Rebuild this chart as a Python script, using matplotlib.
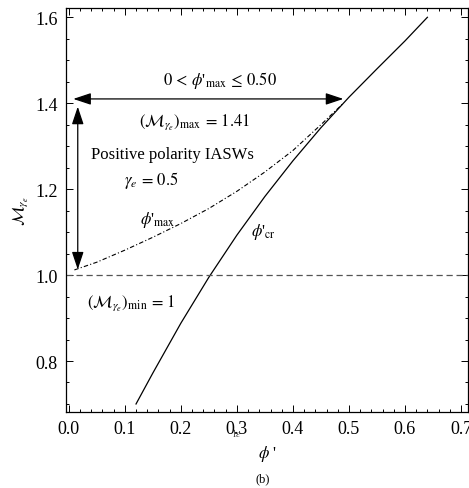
"""Mach number range of positive polarity IASWs versus phi' (panel b)"""

import numpy as np
import matplotlib
matplotlib.use('Agg')
import matplotlib.pyplot as plt
from matplotlib.ticker import MultipleLocator

plt.rcParams['font.family'] = ['Liberation Serif', 'DejaVu Serif']
plt.rcParams['mathtext.fontset'] = 'stix'

# critical curve phi'_cr
phi_cr = [0.12, 0.15, 0.20, 0.25, 0.30, 0.35, 0.40, 0.45, 0.50, 0.55, 0.60, 0.64]
mach_cr = [0.700, 0.772, 0.888, 0.995, 1.093, 1.183, 1.266, 1.343, 1.414, 1.480, 1.545, 1.600]

# upper limit curve phi'_max
phi_max = [0.01, 0.05, 0.10, 0.15, 0.20, 0.25, 0.30, 0.35, 0.40, 0.45, 0.49]
mach_max = [1.012, 1.030, 1.058, 1.088, 1.120, 1.155, 1.195, 1.240, 1.290, 1.350, 1.400]

mach_min = 1.0
mach_top = 1.41
phi_limit = 0.49

fig = plt.figure(figsize=(4.69, 4.89), dpi=100)
ax = fig.add_axes([0.1407, 0.156, 0.8572, 0.8246])

ax.plot(phi_cr, mach_cr, color='black', lw=0.9)
ax.plot(phi_max, mach_max, color='black', lw=0.8, dashes=(4, 2, 1, 2))
ax.axhline(mach_min, color='#555555', lw=0.9, dashes=(5, 3))

arrow = dict(arrowstyle='<|-|>,head_length=0.9,head_width=0.3',
             color='black', lw=0.9, mutation_scale=12, shrinkA=0, shrinkB=0)
ax.annotate('', xy=(0.008, mach_top), xytext=(phi_limit, mach_top), arrowprops=arrow)
ax.annotate('', xy=(0.016, 1.013), xytext=(0.016, 1.392), arrowprops=arrow)

fs = 12
ax.text(0.27, 1.456, r"$0\,<\,\phi$'$_{\rm max}\,\leq\,0.50$", fontsize=fs, ha='center', va='center')
ax.text(0.225, 1.358, r"$\left(\mathcal{M}_{\gamma_e}\right)_{\rm max}\,=\,1.41$",
        fontsize=fs, ha='center', va='center')
ax.text(0.185, 1.281, 'Positive polarity IASWs', fontsize=fs, ha='center', va='center')
ax.text(0.148, 1.223, r"$\gamma_e\,=\,0.5$", fontsize=fs, ha='center', va='center')
ax.text(0.159, 1.13, r"$\phi$'$_{\rm max}$", fontsize=fs, ha='center', va='center')
ax.text(0.348, 1.102, r"$\phi$'$_{\rm cr}$", fontsize=fs, ha='center', va='center')
ax.text(0.111, 0.937, r"$\left(\mathcal{M}_{\gamma_e}\right)_{\rm min}\,=\,1$",
        fontsize=fs, ha='center', va='center')

ax.set_xlim(-0.005, 0.7125)
ax.set_ylim(0.682, 1.6205)
ax.xaxis.set_minor_locator(MultipleLocator(0.02))
ax.yaxis.set_minor_locator(MultipleLocator(0.05))
ax.set_xticks(np.arange(0, 0.71, 0.1))
ax.set_xticklabels(['0.0', '0.1', '0.2', '0.3', '0.4', '0.5', '0.6', '0.7'])
ax.set_yticks([0.8, 1.0, 1.2, 1.4, 1.6])
ax.set_yticklabels(['0.8', '1.0', '1.2', '1.4', '1.6'])
ax.tick_params(which='both', direction='in', top=True, right=True, labelsize=13, width=0.7)
ax.tick_params(which='major', length=5, pad=6)
ax.tick_params(which='minor', length=2.5)
for s in ax.spines.values():
    s.set_linewidth(0.9)

ax.set_xlabel(r"$\phi$ '", fontsize=fs, labelpad=4)
ax.set_ylabel(r"$\mathcal{M}_{\gamma_e}$", fontsize=fs)
ax.yaxis.set_label_coords(-0.09, 0.5)

fig.text(237 / 469, 1 - 433 / 489, r"$1\epsilon$", fontsize=7, ha='center', va='center', color='#444444')
fig.text(263 / 469, 1 - 479 / 489, '(b)', fontsize=9, ha='center', va='center')

fig.savefig('out.png', dpi=100)
